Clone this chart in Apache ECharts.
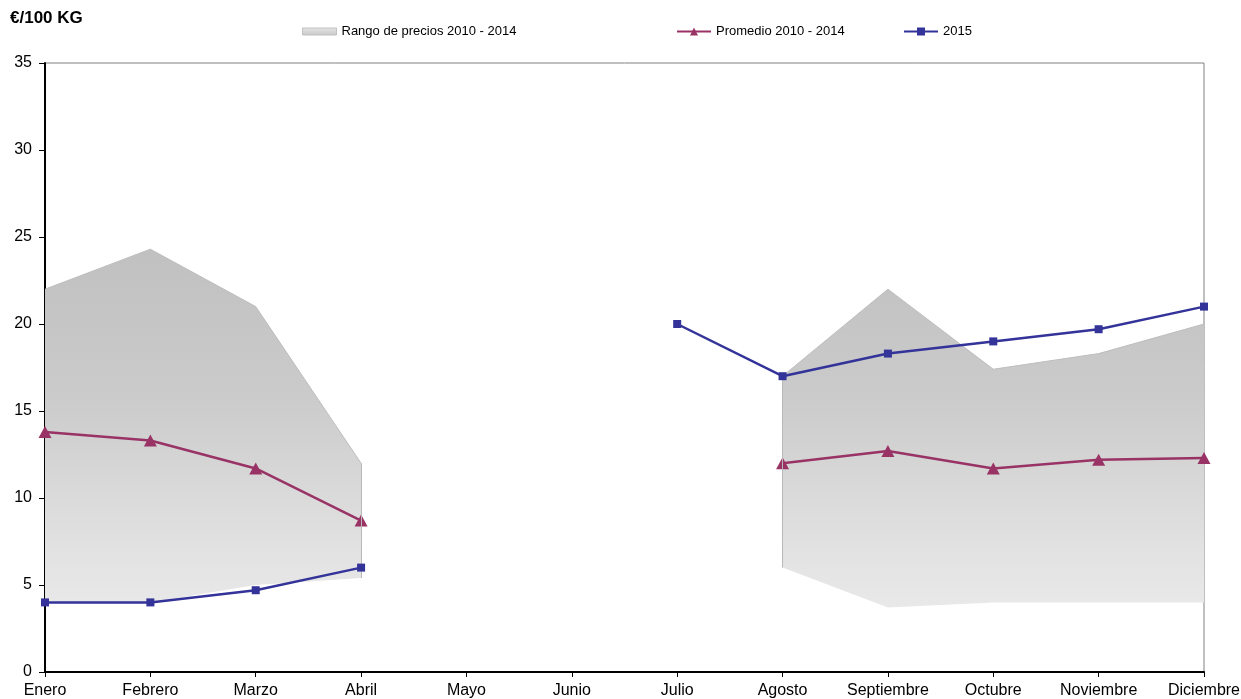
<!DOCTYPE html>
<html><head><meta charset="utf-8">
<script src="https://cdn.jsdelivr.net/npm/echarts@6/dist/echarts.min.js"></script>
<style>html,body{margin:0;padding:0;background:#fff}#c{width:1241px;height:699px}</style>
</head><body><div id="c"></div>
<script>
const months = ['Enero','Febrero','Marzo','Abril','Mayo','Junio','Julio','Agosto','Septiembre','Octubre','Noviembre','Diciembre'];
const rangeLow  = [4.0, 4.0, 5.0, 5.4, null, null, null, 6.0, 3.7, 4.0, 4.0, 4.0];
const rangeHigh = [22.0, 24.3, 21.0, 12.0, null, null, null, 17.0, 22.0, 17.4, 18.3, 20.0];
const promedio  = [13.8, 13.3, 11.7, 8.7, null, null, null, 12.0, 12.7, 11.7, 12.2, 12.3];
const y2015     = [4.0, 4.0, 4.7, 6.0, null, null, 20.0, 17.0, 18.3, 19.0, 19.7, 21.0];
const yTicks = [0, 5, 10, 15, 20, 25, 30, 35];

const bandDiff = rangeLow.map((v, i) => (v == null || rangeHigh[i] == null) ? null : +(rangeHigh[i] - v).toFixed(2));
const edgeLines = [];
rangeLow.forEach((v, i) => {
  if (v == null) return;
  const prev = i > 0 ? rangeLow[i-1] : null, next = i < rangeLow.length-1 ? rangeLow[i+1] : null;
  if ((i > 0 && prev == null) || (i < rangeLow.length-1 && next == null)) {
    edgeLines.push([{coord:[months[i], v]}, {coord:[months[i], rangeHigh[i]]}]);
  }
});

const font = '"Liberation Sans", Arial, sans-serif';
const bandFill = {type: 'linear', x: 0, y: 63, x2: 0, y2: 672, global: true,
  colorStops: [{offset: 0, color: '#bcbcbc'}, {offset: 0.3, color: '#c0c0c0'}, {offset: 0.55, color: '#cbcbcb'},
               {offset: 0.8, color: '#e2e2e2'}, {offset: 1, color: '#f0f0f0'}]};
const legendText = {fontFamily: font, fontSize: 13, color: '#000'};
const chart = echarts.init(document.getElementById('c'));
chart.setOption({
  animation: false,
  textStyle: {fontFamily: font},
  grid: {left: 45, right: 37, top: 63, bottom: 27, show: true, borderColor: '#808080', borderWidth: 1,
         containLabel: false, outerBoundsMode: 'none'},
  title: {text: '€/100 KG', left: 10, top: 10, padding: 0, textStyle: {fontFamily: font, fontSize: 17, fontWeight: 'bold', color: '#000'}},
  legend: [
    {data: [{name: 'Rango de precios 2010 - 2014', icon: 'rect',
             itemStyle: {color: {type: 'linear', x: 0, y: 0, x2: 0, y2: 1, colorStops: [{offset: 0, color: '#e6e6e6'}, {offset: 1, color: '#c8c8c8'}]},
                         borderColor: '#c0c0c0', borderWidth: 1}}],
     left: 302, top: 25, padding: 0, itemWidth: 34, itemHeight: 7, textStyle: legendText},
    {data: ['Promedio 2010 - 2014'], left: 676, top: 25, padding: 0, itemWidth: 34, itemHeight: 10, textStyle: legendText},
    {data: ['2015'], left: 903, top: 25, padding: 0, itemWidth: 34, itemHeight: 10, textStyle: legendText}
  ],
  xAxis: {
    type: 'category', data: months, boundaryGap: false,
    axisLine: {lineStyle: {color: '#000', width: 2}},
    axisTick: {show: true, length: 5, lineStyle: {color: '#000', width: 1}, alignWithLabel: true},
    axisLabel: {color: '#000', fontSize: 16, fontFamily: font, margin: 11, interval: 0},
    splitLine: {show: false}
  },
  yAxis: {
    type: 'value', min: yTicks[0], max: yTicks[yTicks.length-1], interval: 5,
    axisLine: {show: true, lineStyle: {color: '#000', width: 2}},
    axisTick: {show: true, length: 6, lineStyle: {color: '#000'}},
    axisLabel: {color: '#000', fontSize: 16, fontFamily: font, margin: 13},
    splitLine: {show: false}
  },
  series: [
    {name: 'low', type: 'line', stack: 'band', data: rangeLow, symbol: 'none',
     lineStyle: {opacity: 0}, silent: true, z: 1},
    {name: 'Rango de precios 2010 - 2014', type: 'line', stack: 'band', data: bandDiff, symbol: 'none',
     itemStyle: {color: '#d4d4d4'},
     lineStyle: {color: '#bdbdbd', width: 1},
     areaStyle: {opacity: 1, color: bandFill},
     markLine: {silent: true, symbol: 'none', label: {show: false}, lineStyle: {color: '#b8b8b8', width: 1, type: 'solid'}, data: edgeLines},
     z: 2},
    {name: 'Promedio 2010 - 2014', type: 'line', data: promedio, symbol: 'triangle', symbolSize: [13, 12],
     itemStyle: {color: '#993366'}, lineStyle: {color: '#993366', width: 2.5}, z: 4},
    {name: '2015', type: 'line', data: y2015, symbol: 'rect', symbolSize: 8,
     itemStyle: {color: '#333399'}, lineStyle: {color: '#333399', width: 2.5}, z: 5}
  ]
});
</script>
</body></html>
